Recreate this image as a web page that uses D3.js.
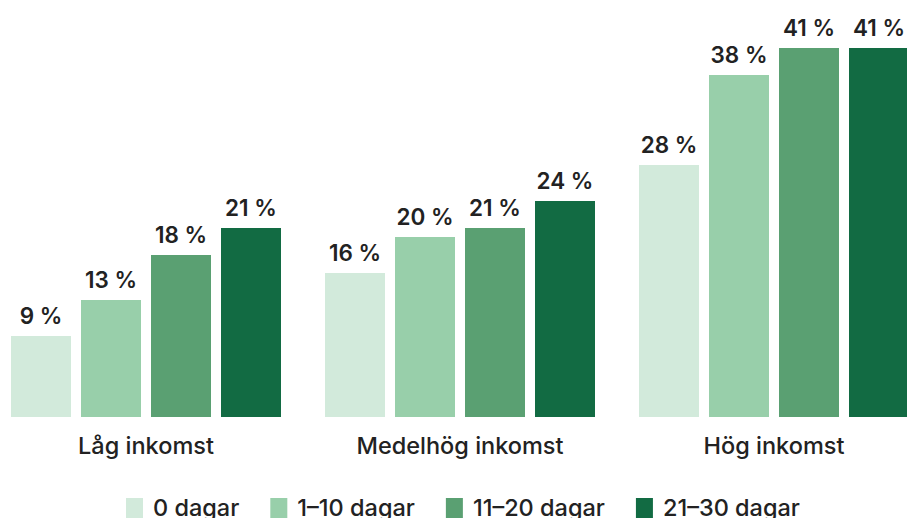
<!DOCTYPE html>
<html>
<head>
<meta charset="utf-8">
<script src="https://cdn.jsdelivr.net/npm/d3@7"></script>
<style>
  html, body { margin: 0; padding: 0; background: #fff; }
  svg { display: block; font-family: Inter, "Liberation Sans", sans-serif; }
</style>
</head>
<body>
<div id="chart"></div>
<script>
  'use strict';

  const groups = ['Låg inkomst', 'Medelhög inkomst', 'Hög inkomst'];
  const series = ['0 dagar', '1–10 dagar', '11–20 dagar', '21–30 dagar'];
  const colors = ['#d2eadb', '#98cfaa', '#5aa072', '#126b43'];
  const lowIncome = [9, 13, 18, 21];
  const midIncome = [16, 20, 21, 24];
  const highIncome = [28, 38, 41, 41];

  const values = [lowIncome, midIncome, highIncome];

  const w = 907;
  const h = 518;

  const svg = d3.select('#chart').append('svg')
    .attr('width', w)
    .attr('height', h);

  const x0 = d3.scaleBand().domain(groups).range([11, 909]).paddingInner(44 / 314).paddingOuter(0);
  const x1 = d3.scaleBand().domain(series).range([0, x0.bandwidth()]).paddingInner(10 / 70).paddingOuter(0);
  const y = d3.scaleLinear().domain([0, 41]).range([417, 48]);
  const color = d3.scaleOrdinal().domain(series).range(colors);

  const groupElems = svg.append('g').selectAll('g')
    .data(groups)
    .enter()
    .append('g')
    .attr('transform', d => `translate(${x0(d)},0)`);

  const bars = groupElems.selectAll('g')
    .data((d, i) => series.map((s, j) => ({ s: s, v: values[i][j] })))
    .enter()
    .append('g');

  bars.append('rect')
    .attr('x', d => x1(d.s))
    .attr('width', x1.bandwidth())
    .attr('y', d => y(d.v))
    .attr('height', d => y(0) - y(d.v))
    .attr('fill', d => color(d.s));

  bars.append('text')
    .attr('x', d => x1(d.s) + x1.bandwidth() / 2)
    .attr('y', d => y(d.v) - 12)
    .attr('text-anchor', 'middle')
    .attr('font-size', '22.5px')
    .attr('font-weight', 600)
    .attr('fill', '#222')
    .text(d => d.v + ' %');

  // group labels under the bars
  groupElems.append('text')
    .attr('x', x0.bandwidth() / 2)
    .attr('y', 454)
    .attr('text-anchor', 'middle')
    .attr('font-size', '23.5px')
    .attr('font-weight', 500)
    .attr('fill', '#222')
    .text(d => d);

  // legend
  const legend = svg.append('g');
  let lx = 126;
  series.forEach(s => {
    const item = legend.append('g').attr('transform', `translate(${lx},0)`);
    item.append('rect')
      .attr('x', 0)
      .attr('y', 498)
      .attr('width', 17)
      .attr('height', 22)
      .attr('fill', color(s));
    const t = item.append('text')
      .attr('x', 27)
      .attr('y', 516)
      .attr('font-size', '23.5px')
      .attr('font-weight', 500)
      .attr('fill', '#222')
      .text(s);
    lx += 27 + t.node().getComputedTextLength() + 31;
  });
</script>
</body>
</html>
